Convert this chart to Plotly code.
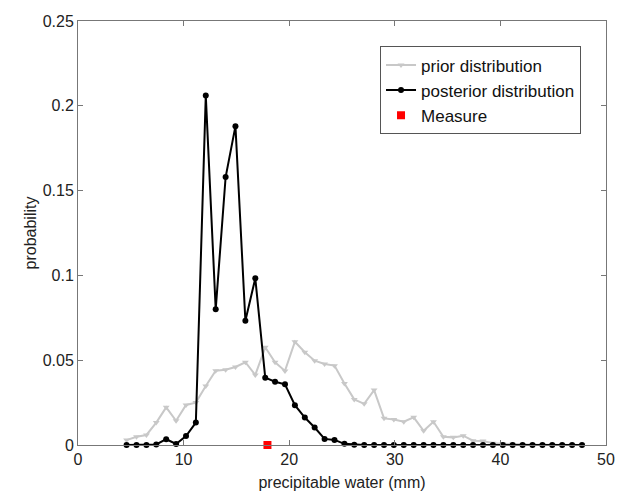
import plotly.graph_objects as go

water_mm = [4.60, 5.54, 6.48, 7.41, 8.35, 9.29, 10.23, 11.16, 12.10, 13.04,
            13.98, 14.91, 15.85, 16.79, 17.73, 18.66, 19.60, 20.54, 21.48, 22.41,
            23.35, 24.29, 25.23, 26.16, 27.10, 28.04, 28.98, 29.91, 30.85, 31.79,
            32.73, 33.66, 34.60, 35.54, 36.48, 37.41, 38.35, 39.29, 40.23, 41.16,
            42.10, 43.04, 43.98, 44.91, 45.85, 46.79, 47.73]

prior = [0.0029, 0.0049, 0.0059, 0.0132, 0.0222, 0.0143, 0.0236, 0.0250, 0.0348, 0.0438,
         0.0444, 0.0460, 0.0488, 0.0413, 0.0576, 0.0488, 0.0437, 0.0609, 0.0547, 0.0497,
         0.0478, 0.0468, 0.0362, 0.0269, 0.0243, 0.0324, 0.0157, 0.0150, 0.0137, 0.0163,
         0.0084, 0.0137, 0.0049, 0.0045, 0.0055, 0.0025, 0.0024, 0.0010, 0.0008, 0.0005,
         0.0003, 0.0002, 0.0001, 0.0, 0.0, 0.0, 0.0]

posterior = [0.0, 0.0, 0.0, 0.0003, 0.0034, 0.0006, 0.0053, 0.0132, 0.206, 0.080,
             0.158, 0.188, 0.0733, 0.0983, 0.0397, 0.0373, 0.0358, 0.0235, 0.0162, 0.0103,
             0.0036, 0.0030, 0.0007, 0.0002, 0.0, 0.0, 0.0, 0.0, 0.0, 0.0,
             0.0, 0.0, 0.0, 0.0, 0.0, 0.0, 0.0, 0.0, 0.0, 0.0,
             0.0, 0.0, 0.0, 0.0, 0.0, 0.0, 0.0]

measure_x = [17.94]
measure_y = [0.0]

FONT = "Liberation Sans, Arial, Helvetica, sans-serif"

fig = go.Figure()
fig.add_trace(go.Scatter(
    x=water_mm, y=prior, name="prior distribution", mode="lines+markers",
    line=dict(color="#c8c8c8", width=2),
    marker=dict(symbol="triangle-down", size=6, color="#c8c8c8"),
    cliponaxis=False))
fig.add_trace(go.Scatter(
    x=water_mm, y=posterior, name="posterior distribution", mode="lines+markers",
    line=dict(color="black", width=2),
    marker=dict(symbol="circle", size=6, color="black"),
    cliponaxis=False))
fig.add_trace(go.Scatter(
    x=measure_x, y=measure_y, name="Measure", mode="markers",
    marker=dict(symbol="square", size=8, color="#ff0000"),
    cliponaxis=False))

axis_common = dict(
    showline=True, linecolor="#777777", linewidth=1, mirror="ticks",
    ticks="inside", ticklen=5, tickcolor="#777777", showgrid=False,
    zeroline=False, automargin=False,
    tickfont=dict(family=FONT, size=16, color="#222222"),
)

fig.update_layout(
    width=617, height=491,
    margin=dict(l=78, r=11, t=21, b=46),
    paper_bgcolor="white", plot_bgcolor="white",
    font=dict(family=FONT, size=16, color="#222222"),
    xaxis=dict(range=[0, 50], dtick=10, tick0=0,
               title=dict(text="precipitable water (mm)",
                          font=dict(family=FONT, size=16)),
               **axis_common),
    yaxis=dict(range=[0, 0.25], dtick=0.05, tick0=0,
               title=dict(text="probability", standoff=2,
                          font=dict(family=FONT, size=16)),
               **axis_common),
    legend=dict(x=0.572, y=0.94, xanchor="left", yanchor="top",
                bgcolor="white", bordercolor="#555555", borderwidth=1,
                font=dict(family=FONT, size=17, color="#111111"),
                tracegroupgap=0, itemwidth=30),
    showlegend=True,
)

fig.write_html("out.html")
